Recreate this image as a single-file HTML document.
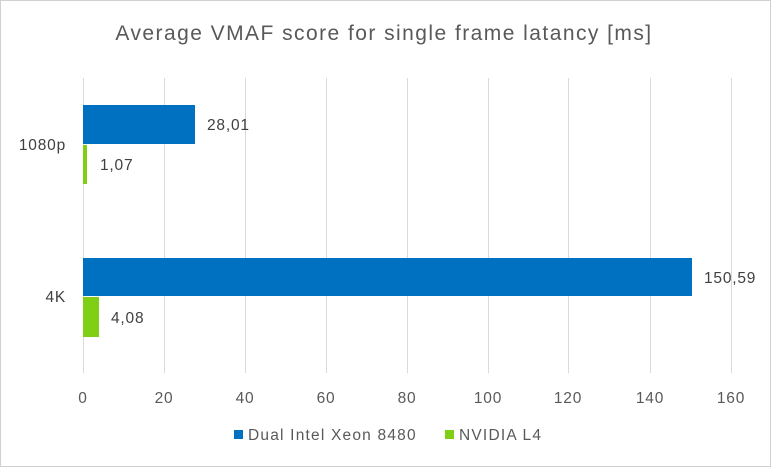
<!DOCTYPE html>
<html><head><meta charset="utf-8"><style>
html,body{margin:0;padding:0;background:#fff;}
svg{display:block;font-family:"Liberation Sans","DejaVu Sans",sans-serif;}
</style></head><body>
<svg width="772" height="468" viewBox="0 0 772 468" xmlns="http://www.w3.org/2000/svg">
<rect x="0.5" y="0.5" width="770" height="466" fill="#fff" stroke="#d0d0d0"/>
<text x="384" y="40" font-size="21" letter-spacing="1.45" fill="#595959" text-anchor="middle">Average VMAF score for single frame latancy [ms]</text>
<g stroke="#d9d9d9" stroke-width="1">
<line x1="83.5" y1="78" x2="83.5" y2="373"/>
<line x1="164.5" y1="78" x2="164.5" y2="373"/>
<line x1="245.5" y1="78" x2="245.5" y2="373"/>
<line x1="326.5" y1="78" x2="326.5" y2="373"/>
<line x1="407.5" y1="78" x2="407.5" y2="373"/>
<line x1="488.5" y1="78" x2="488.5" y2="373"/>
<line x1="568.5" y1="78" x2="568.5" y2="373"/>
<line x1="650.5" y1="78" x2="650.5" y2="373"/>
<line x1="731.5" y1="78" x2="731.5" y2="373"/>
</g>
<rect x="83" y="105" width="112" height="39" fill="#0070c0"/>
<rect x="83" y="145" width="4" height="39" fill="#7fd014"/>
<rect x="83" y="258" width="609" height="38" fill="#0070c0"/>
<rect x="83" y="297" width="16" height="40" fill="#7fd014"/>
<g font-size="15.5" fill="#404040" letter-spacing="0.8">
<text x="207" y="130">28,01</text>
<text x="100" y="170">1,07</text>
<text x="704" y="283">150,59</text>
<text x="111" y="323">4,08</text>
<text x="66" y="150" text-anchor="end">1080p</text>
<text x="66" y="302" text-anchor="end">4K</text>
</g>
<g font-size="15.5" fill="#595959" text-anchor="middle" letter-spacing="0.8">
<text x="83" y="403">0</text><text x="164" y="403">20</text><text x="245" y="403">40</text>
<text x="326" y="403">60</text><text x="407" y="403">80</text><text x="488" y="403">100</text>
<text x="568" y="403">120</text><text x="650" y="403">140</text><text x="731" y="403">160</text>
</g>
<rect x="234" y="430" width="9" height="9" fill="#0070c0"/>
<text x="248" y="440" font-size="15.5" letter-spacing="1.2" fill="#595959">Dual Intel Xeon 8480</text>
<rect x="445" y="430" width="9" height="9" fill="#7fd014"/>
<text x="459" y="440" font-size="15.5" letter-spacing="1.2" fill="#595959">NVIDIA L4</text>
</svg>
</body></html>
